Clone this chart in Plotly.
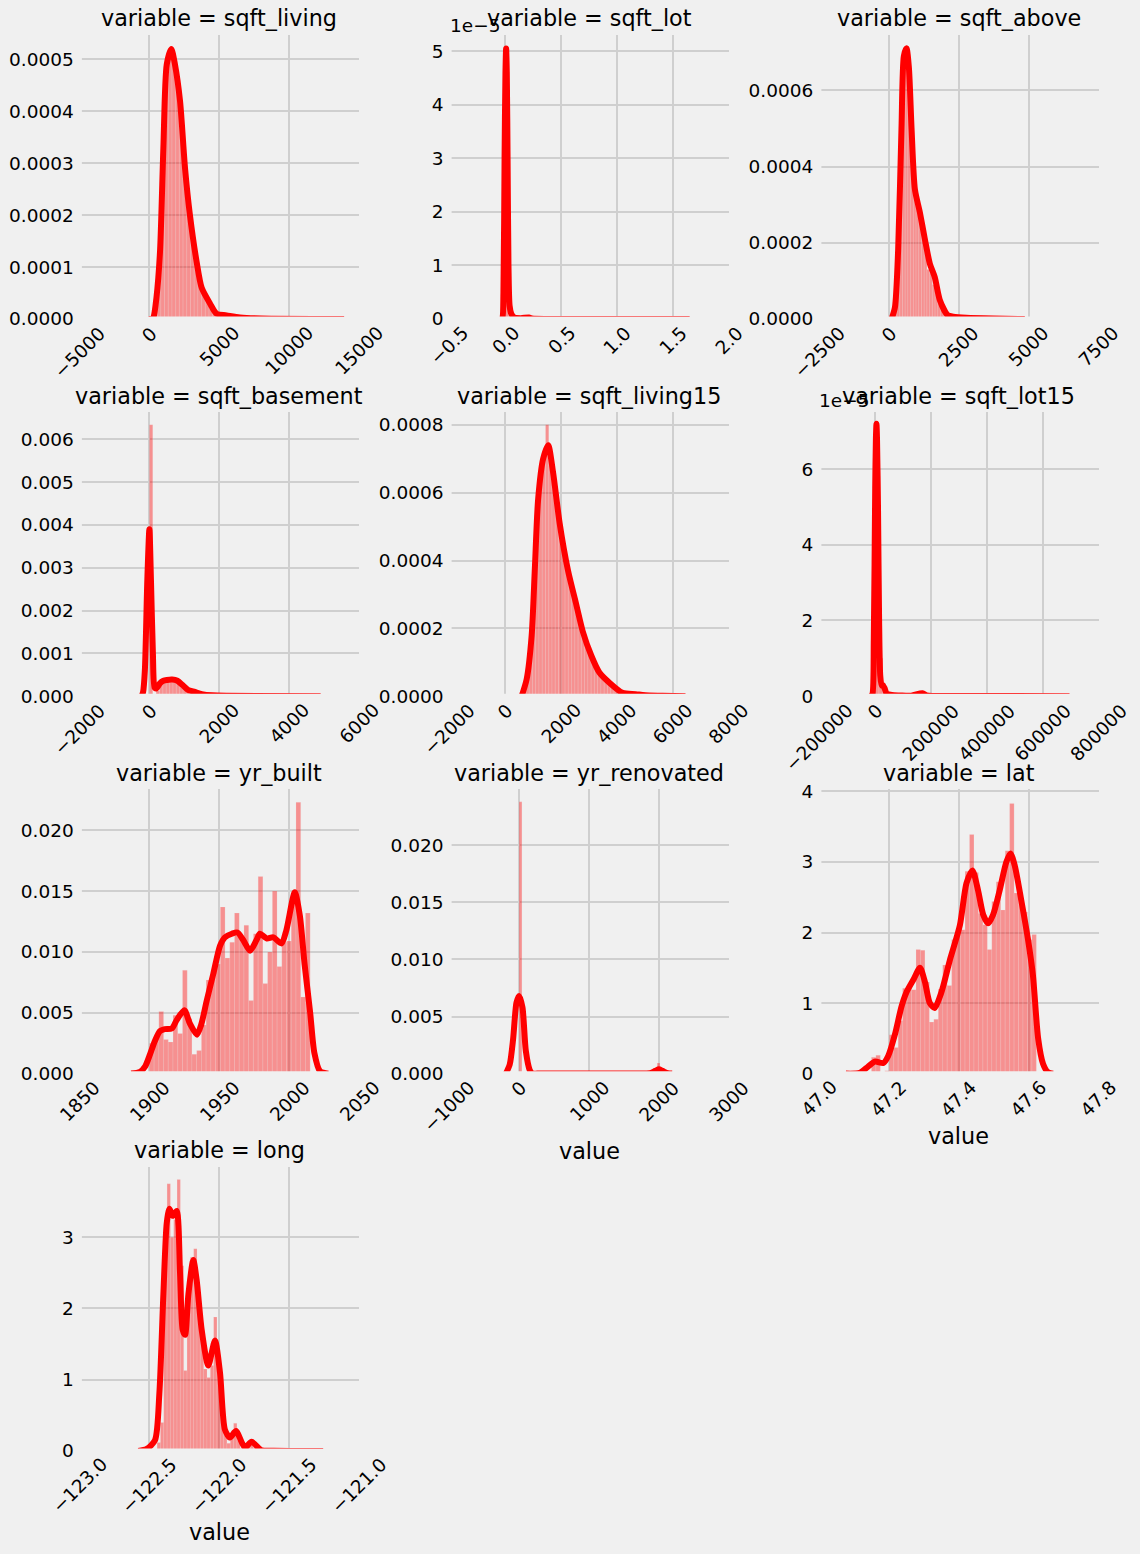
import numpy as np
import plotly.graph_objects as go

# ---------- chart data ----------
names = ["sqft_living", "sqft_lot", "sqft_above", "sqft_basement", "sqft_living15",
         "sqft_lot15", "yr_built", "yr_renovated", "lat", "long"]

# sqft_living
living_bin_range = [290, 13540]
living_bars = [.00003, .00010, .00029, .00047, .00051, .00050, .00045, .00037, .00029, .00022,
               .00017, .00012, .00007, .00005, .00004, .00002, .000015, .000008, .000007, .000006,
               .000004, .000003, .000002, .0000015, .000001, .000001, .0000008, .0000006, .0000005, .0000005,
               .0000004, .0000004, .0000003, .0000003, .0000002, .0000002, .0000002, .0000002, .0000001, .0000001,
               .0000001, .0000001, .0000001, .0000001, 0, 0, 0, 0, 0, .0000001]
living_kde_x = [-70, 170, 300, 500, 760, 1000, 1240, 1570, 1830, 2190, 2550, 2900, 3380, 3740, 4330, 4810, 5520, 6480, 8000, 13930]
living_kde_y = [0, 0, .000004, .00004, .00013, .00033, .00049, .00052, .00049, .00042, .00029, .0002, .00011, .00006, .00003, .00001, .000007, .000003, .000001, 0]

# sqft_lot (x in units of 1e6, y in units of 1e-5)
lot_bin_range = [0.0005, 1.65]
lot_bars = [2.9, .07, .03, .015, .02, .03, .015, .01, .008, .006, .005, .004, .003, .003, .002, .002, .002,
            .002, .001, .001, .001, .001, .001, .001, .001, .001, .001, .001, .001, .001, .001, .001, .001,
            .001, .001, .001, .001, .001, .001, .001, .001, .001, .001, .001, .001, .001, .001, .001, .001, .001]
lot_kde_x = [-.04, -.025, -.015, -.005, .003, .009, .015, .022, .03, .04, .055, .08, .14, .212, .24, .45, 1.0, 1.65]
lot_kde_y = [0, .02, .5, 3.0, 4.6, 5.05, 4.6, 3.0, 1.0, .25, .1, .03, .015, .03, .008, .002, .001, 0]

# sqft_above
above_bin_range = [0, 4860]
above_bars = [.000001, .000005, .00006, .0002, .00045, .0007, .0007, .00066, .00048, .00035,
              .0003, .00026, .00023, .00018, .00013, .00012, .00009, .00007, .00004, .00003,
              .00002, .000012, .000006, .000005, .000004, .000003, .000003, .000002, .000002, .000002,
              .000002, .000001, .000001, .000001, .000001, .000001, .000001, .0000008, .0000008, .0000006,
              .0000006, .0000005, .0000005, .0000004, .0000004, .0000003, .0000003, .0000002, .0000002, .0000002]
above_kde_x = [95, 215, 330, 450, 535, 630, 715, 810, 930, 1107, 1285, 1465, 1640, 1820, 2100, 2300, 2770, 3730, 4860]
above_kde_y = [0, .00003, .00018, .0005, .00069, .00071, .00066, .0005, .00034, .00028, .00021, .000145, .00011, .00005, .00001, .000006, .000003, .000001, 0]

# sqft_basement
basement_bin_range = [0, 4820]
basement_bars = [.00634, .00002, .00012, .00033, .0004, .0004, .00042, .0004, .00032, .00028,
                 .00022, .00015, .00012, .00009, .00007, .00005, .00004, .00003, .00002, .000016,
                 .00001, .000008, .000006, .000005, .000004, .000004, .000003, .000003, .000002, .000002,
                 .000002, .000002, .000001, .000001, .000001, .000001, .000001, .000001, .000001, .000001,
                 .000001, .000001, .000001, .000001, .000001, .000001, .000001, .000001, .000001, .000001]
basement_kde_x = [-220, -180, -130, -60, 0, 45, 100, 150, 200, 300, 400, 500, 650, 800, 950, 1100, 1300, 1500, 1800, 2200, 4900]
basement_kde_y = [0, .0001, .0006, .0027, .0039, .0027, .001, .0002, .00018, .0003, .00036, .00038, .00039, .00036, .00026, .00015, .0001, .00005, .00002, .00001, 0]

# sqft_living15
living15_bin_range = [162, 6460]
living15_bars = [.0000005, .000001, .000003, .000006, .00002, .00006, .00016, .00033, .00051, .00064,
                 .0007, .0008, .00068, .00062, .00057, .00049, .00044, .00039, .00034, .0003,
                 .00027, .00023, .00019, .00016, .00013, .00011, .00009, .00007, .00006, .00005,
                 .00004, .00003, .000025, .000015, .00001, .000009, .000008, .000007, .000006, .000004,
                 .000003, .000002, .0000015, .0000015, .0000012, .000001, .000001, .000001, .000001, .000001,
                 .000001, .000001, .000001, .000001]
living15_kde_x = [590, 770, 950, 1065, 1180, 1360, 1540, 1715, 1950, 2250, 2545, 2780, 3080, 3370, 3730, 4200, 4670, 5150, 5620, 6450]
living15_kde_y = [0, .00005, .00018, .00038, .00058, .0007, .00074, .00066, .00051, .00037, .00027, .00019, .00012, .00007, .00004, .00001, .000006, .000002, .0000015, 0]

# sqft_lot15 (y in units of 1e-5)
lot15_bin_range = [660, 696000]
lot15_bars = [6.7, 1.0, .25, .08, .04, .03, .02, .02, .015, .015, .02, .06, .03, .01, .008, .006, .005,
              .004, .004, .003, .003, .002, .002, .002, .002, .001, .001, .001, .001, .001, .001, .001, .001,
              .001, .001, .001, .001, .001, .001, .001, .001, .001, .001, .001, .001, .001, .001, .001, .001, .001]
lot15_kde_x = [-15000, -9000, -4000, 1000, 3500, 5500, 7500, 11000, 15000, 19000, 24000, 28000, 34000, 42000, 60000, 90000, 130000, 170000, 185000, 300000, 696000]
lot15_kde_y = [0, .05, 1.5, 5.5, 6.8, 7.2, 6.8, 5, 2, .55, .28, .3, .22, .07, .03, .02, .015, .08, .02, .005, 0]

# yr_built
built_bin_range = [1900, 2015]
built_bars = [.0025, .003, .0051, .0028, .0026, .0048, .0033, .0085, .0045, .0016, .0019, .004, .0077, .0083, .009, .0137, .0095,
              .0108, .0132, .0112, .0122, .006, .0115, .0162, .0074, .01, .015, .0088, .0108, .0109, .014, .0223, .0063, .0132]
built_kde_x = [1887, 1893.3, 1897, 1900.5, 1904, 1907.6, 1911, 1916, 1919.5, 1925, 1929, 1934, 1937, 1941, 1945.7, 1950.5, 1954, 1959, 1963, 1967,
               1972, 1976.7, 1979, 1984, 1988.6, 1994.5, 1998, 2004, 2007.6, 2011, 2015, 2018, 2022, 2028]
built_kde_y = [0, .00015, .0006, .0016, .0027, .0035, .00365, .0037, .0044, .0052, .0041, .0032, .004, .006, .0082, .0105, .0112, .0115, .0116, .011,
               .0101, .011, .0115, .0111, .0112, .0107, .0118, .0149, .013, .009, .005, .0017, .0002, 0]

# yr_renovated
renovated_bin_range = [0, 2015]
renovated_bars = [.0238, 0, 0, 0, 0, 0, 0, 0, 0, 0, 0, 0, 0, 0, 0, 0, 0, 0, 0, 0, 0, 0, 0, 0, 0,
                  0, 0, 0, 0, 0, 0, 0, 0, 0, 0, 0, 0, 0, 0, 0, 0, 0, 0, 0, 0, 0, 0, 0, 0, .00092]
renovated_kde_x = [-190, -134, -86, -38, 0, 48, 96, 153, 190, 260, 500, 1000, 1500, 1760, 1820, 1875, 1950, 2000, 2050, 2125, 2190]
renovated_kde_y = [0, .0008, .003, .0062, .0068, .0058, .002, .0003, .00001, 0, 0, 0, 0, 0, 0, .00003, .00025, .00038, .00025, .00003, 0]

# lat
lat_bin_range = [47.15, 47.622]
lat_bars = [.23, .26, .02, .04, .55, .37, .75, 1.21, 1.22, 1.19, 1.76, 1.75, 1.3, .73, .77, 1.2, 1.54, 1.25, 1.9,
            2.05, 2.04, 2.87, 3.39, 2.85, 2.27, 2.11, 1.76, 2.44, 2.72, 2.32, 3.16, 3.83, 2.56, 2.5, 2.29, 1.9, 1.97]
lat_kde_x = [47.077, 47.117, 47.136, 47.16, 47.184, 47.198, 47.217, 47.236, 47.25, 47.27, 47.289, 47.303, 47.317, 47.331, 47.35, 47.374, 47.403,
             47.422, 47.439, 47.455, 47.47, 47.484, 47.498, 47.517, 47.536, 47.548, 47.56, 47.579, 47.598, 47.612, 47.627, 47.641, 47.655, 47.67]
lat_kde_y = [0, .01, .08, .17, .15, .25, .55, .95, 1.15, 1.33, 1.5, 1.3, 1.0, .93, 1.15, 1.6, 2.1,
             2.7, 2.88, 2.6, 2.25, 2.13, 2.25, 2.6, 3.0, 3.12, 2.95, 2.45, 1.9, 1.4, .5, .14, .02, 0]

# long
long_bin_range = [-122.445, -121.255]
long_bars = [.12, .4, 2.63, 3.75, 3.0, 3.25, 3.81, 2.6, 1.13, 2.1, 2.72, 2.84, 2.0, 1.8, 1.15, 1.03, 1.2, 1.88, 1.1, .7,
             .3, .11, .2, .39, .15, .04, .03, .13, .15, .05, .02, .01, .005, .003, .002, .002, .002, .002, .002, .002,
             .002, .002, .002, .002, .002, .002, .002, .002, .002, .002]
long_kde_x = [-122.579, -122.519, -122.46, -122.429, -122.4, -122.376, -122.357, -122.333, -122.305, -122.281, -122.262, -122.245, -122.221, -122.186,
              -122.162, -122.126, -122.079, -122.031, -121.995, -121.96, -121.924, -121.881, -121.817, -121.769, -121.698, -121.614, -121.257]
long_kde_y = [0, .03, .15, .8, 2.2, 3.2, 3.4, 3.3, 3.37, 2.5, 1.7, 1.63, 2.2, 2.68,
              2.4, 1.7, 1.2, 1.55, 1.1, .3, .19, .28, .05, .13, .01, .003, 0]

# axis ticks and ranges
x_ticks = [[-5000, 0, 5000, 10000, 15000], [-.5, 0, .5, 1, 1.5, 2], [-2500, 0, 2500, 5000, 7500],
           [-2000, 0, 2000, 4000, 6000], [-2000, 0, 2000, 4000, 6000, 8000],
           [-200000, 0, 200000, 400000, 600000, 800000], [1850, 1900, 1950, 2000, 2050],
           [-1000, 0, 1000, 2000, 3000], [47.0, 47.2, 47.4, 47.6, 47.8], [-123, -122.5, -122, -121.5, -121]]
x_labels = [["−5000", "0", "5000", "10000", "15000"], ["−0.5", "0.0", "0.5", "1.0", "1.5", "2.0"],
            ["−2500", "0", "2500", "5000", "7500"], ["−2000", "0", "2000", "4000", "6000"],
            ["−2000", "0", "2000", "4000", "6000", "8000"],
            ["−200000", "0", "200000", "400000", "600000", "800000"], ["1850", "1900", "1950", "2000", "2050"],
            ["−1000", "0", "1000", "2000", "3000"], ["47.0", "47.2", "47.4", "47.6", "47.8"],
            ["−123.0", "−122.5", "−122.0", "−121.5", "−121.0"]]
y_ticks = [[0, .0001, .0002, .0003, .0004, .0005], [0, 1, 2, 3, 4, 5], [0, .0002, .0004, .0006],
           [0, .001, .002, .003, .004, .005, .006], [0, .0002, .0004, .0006, .0008], [0, 2, 4, 6],
           [0, .005, .01, .015, .02], [0, .005, .01, .015, .02], [0, 1, 2, 3, 4], [0, 1, 2, 3]]
y_labels = [["0.0000", "0.0001", "0.0002", "0.0003", "0.0004", "0.0005"], ["0", "1", "2", "3", "4", "5"],
            ["0.0000", "0.0002", "0.0004", "0.0006"],
            ["0.000", "0.001", "0.002", "0.003", "0.004", "0.005", "0.006"],
            ["0.0000", "0.0002", "0.0004", "0.0006", "0.0008"], ["0", "2", "4", "6"],
            ["0.000", "0.005", "0.010", "0.015", "0.020"], ["0.000", "0.005", "0.010", "0.015", "0.020"],
            ["0", "1", "2", "3", "4"], ["0", "1", "2", "3"]]
x_ranges = [[-5000, 15000], [-.5, 2], [-2500, 7500], [-2000, 6000], [-2000, 8000], [-200000, 800000],
            [1850, 2050], [-1000, 3000], [47.0, 47.8], [-123, -121]]
y_tops = [.000547, 5.3, .000745, .00663, .000837, 7.5, .02337, .0249, 4.03, 3.99]

bin_ranges = [living_bin_range, lot_bin_range, above_bin_range, basement_bin_range, living15_bin_range,
              lot15_bin_range, built_bin_range, renovated_bin_range, lat_bin_range, long_bin_range]
bars = [living_bars, lot_bars, above_bars, basement_bars, living15_bars,
        lot15_bars, built_bars, renovated_bars, lat_bars, long_bars]
kde_x = [living_kde_x, lot_kde_x, above_kde_x, basement_kde_x, living15_kde_x,
         lot15_kde_x, built_kde_x, renovated_kde_x, lat_kde_x, long_kde_x]
kde_y = [living_kde_y, lot_kde_y, above_kde_y, basement_kde_y, living15_kde_y,
         lot15_kde_y, built_kde_y, renovated_kde_y, lat_kde_y, long_kde_y]
value_label_panels = {"yr_renovated": 1151, "lat": 1136, "long": 1532}
offset_labels = {"sqft_lot": (475, 25), "sqft_lot15": (844, 401)}

# ---------- layout constants (pixels of the 1140x1554 page) ----------
W, H = 1140, 1554
BG = "#f0f0f0"
FONT = "DejaVu Sans"
COL_L = [79.5, 449.2, 819.0]
COL_W = 279.6
ROW_T = [35.0, 412.3, 789.3, 1166.7]
ROW_B = [319.0, 696.2, 1073.6, 1451.0]
COVER = 2.4


def px(x):
    return x / W


def py(y):
    return 1 - y / H


fig = go.Figure()
layout = {}
annotations = []
shapes = []

for i, name in enumerate(names):
    r, c = i // 3, i % 3
    suffix = "" if i == 0 else str(i + 1)
    xa, ya = "x" + suffix, "y" + suffix
    left, right = COL_L[c], COL_L[c] + COL_W
    top, bottom = ROW_T[r], ROW_B[r]

    edges = np.linspace(bin_ranges[i][0], bin_ranges[i][1], len(bars[i]) + 1)
    fig.add_trace(go.Bar(x=(edges[:-1] + edges[1:]) / 2, y=bars[i], width=edges[1] - edges[0],
                         marker=dict(color="rgba(255,0,0,0.4)",
                                     line=dict(color="rgba(240,240,240,0.35)", width=0.5)),
                         xaxis=xa, yaxis=ya, showlegend=False, name=name))
    fig.add_trace(go.Scatter(x=kde_x[i], y=kde_y[i], mode="lines", xaxis=xa, yaxis=ya, showlegend=False, name=name,
                             line=dict(color="#ff0000", width=6, shape="spline", smoothing=0.7)))

    layout["xaxis" + suffix] = dict(domain=[px(left), px(right)], range=x_ranges[i], anchor=ya, automargin=False,
                                    tickmode="array", tickvals=x_ticks[i], showticklabels=False, ticks="",
                                    showgrid=True, gridcolor="#cfcfcf", gridwidth=1.5, zeroline=False, showline=False)
    layout["yaxis" + suffix] = dict(domain=[py(bottom), py(top)], range=[0, y_tops[i]], anchor=xa, automargin=False,
                                    tickmode="array", tickvals=y_ticks[i], ticktext=y_labels[i],
                                    ticks="outside", ticklen=1, tickcolor="rgba(0,0,0,0)",
                                    tickfont=dict(family=FONT, size=18.5, color="#000000"),
                                    showgrid=True, gridcolor="#cfcfcf", gridwidth=1.5, zeroline=False, showline=False)

    # bottom and left spines painted in the background colour, as in the reference style
    shapes.append(dict(type="rect", xref="paper", yref="paper", layer="above", line_width=0, fillcolor=BG,
                       x0=px(left - 3), x1=px(right + 1.5), y0=py(bottom + 3), y1=py(bottom - COVER)))
    shapes.append(dict(type="rect", xref="paper", yref="paper", layer="above", line_width=0, fillcolor=BG,
                       x0=px(left - 3), x1=px(left + COVER), y0=py(bottom + 3), y1=py(top - 1)))

    annotations.append(dict(text=f"variable = {name}", xref="paper", yref="paper", x=px((left + right) / 2),
                            y=py(top - 16.5), xanchor="center", yanchor="middle", showarrow=False,
                            font=dict(family=FONT, size=22.3, color="#000000")))
    for tv, tl in zip(x_ticks[i], x_labels[i]):
        annotations.append(dict(text=tl, xref=xa, yref="paper", x=tv, y=py(bottom + 2), xanchor="center",
                                yanchor="top", textangle=-45, showarrow=False, borderpad=0,
                                font=dict(family=FONT, size=18.5, color="#000000")))
    if name in value_label_panels:
        annotations.append(dict(text="value", xref="paper", yref="paper", x=px((left + right) / 2),
                                y=py(value_label_panels[name]), xanchor="center", yanchor="middle", showarrow=False,
                                font=dict(family=FONT, size=22.3, color="#000000")))
    if name in offset_labels:
        ox, oy = offset_labels[name]
        annotations.append(dict(text="1e−5", xref="paper", yref="paper", x=px(ox), y=py(oy), xanchor="center",
                                yanchor="middle", showarrow=False, font=dict(family=FONT, size=18.5, color="#000000")))

fig.update_layout(template="none", width=W, height=H, autosize=False, margin=dict(l=0, r=0, t=0, b=0, pad=0),
                  paper_bgcolor=BG, plot_bgcolor=BG, barmode="overlay", showlegend=False,
                  annotations=annotations, shapes=shapes, **layout)
fig.write_html("out.html", config={"displayModeBar": False},
               post_script="document.body.style.margin='0';document.body.style.background='#f0f0f0';")
